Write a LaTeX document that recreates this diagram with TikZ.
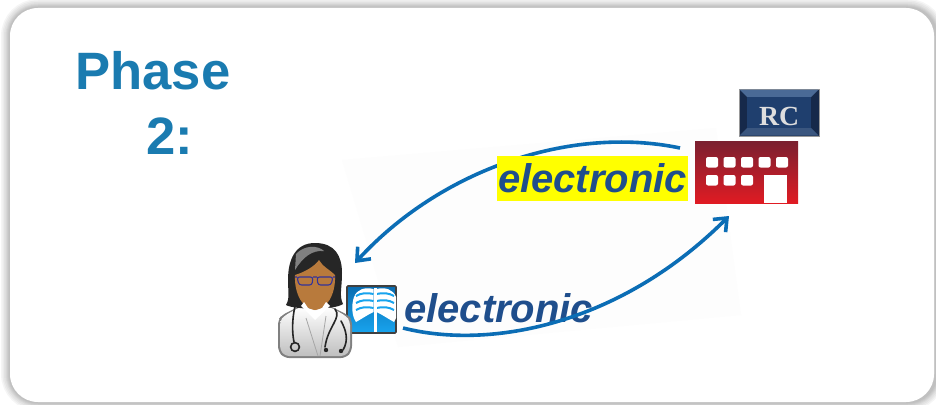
\documentclass[tikz,border=0pt]{standalone}
\usepackage{fontspec}
\setmainfont{Liberation Sans}
\newfontfamily\rcfont{Liberation Serif}
\usetikzlibrary{arrows.meta}
\definecolor{arrowblue}{HTML}{0B6DB5}
\definecolor{titleblue}{HTML}{1A7BB0}
\definecolor{wordblue}{HTML}{1F4E8C}
\definecolor{skin}{HTML}{B87A3C}
\definecolor{screenblue}{HTML}{18A4EE}
\definecolor{screendark}{HTML}{0A6CB0}
\definecolor{marker}{HTML}{FFFF00}
\definecolor{brickdark}{HTML}{7A2030}
\definecolor{brickred}{HTML}{E01B23}
\definecolor{navy}{HTML}{1F3F6E}
\definecolor{navydark}{HTML}{16294A}
\definecolor{navylight}{HTML}{4A6A96}
\tikzset{
  link/.style={draw=arrowblue,line width=3.6pt,-{Straight Barb[length=11pt,width=18pt,line width=3.6pt]}},
  word/.style={font=\bfseries\itshape\fontsize{40}{40}\selectfont,text=wordblue,inner sep=0pt},
  pane/.style={fill=white,rounded corners=2pt},
  stripe/.style={draw=screenblue,line width=2pt},
  tube/.style={draw=black!85,line width=1.6pt,line cap=round}
}
\begin{document}
\begin{tikzpicture}[x=1pt,y=-1pt]
  \useasboundingbox (0,0) rectangle (936,404);
  % card with soft edge
  \begin{scope}
    \clip (0,0) rectangle (936,404);
    \foreach \w in {18,15,12,9,7,5,3}{
      \draw[line width=\w pt,black,draw opacity=.04,rounded corners=28pt] (10,8) rectangle (936,402);
    }
    \fill[white,rounded corners=28pt] (10,8) rectangle (934,402);
  \end{scope}
  % faint sheet behind the arrows
  \fill[black!.7] (342,160) -- (716,128) -- (741,315) -- (398,347) -- cycle;

  \node[font=\bfseries\fontsize{52.6}{65}\selectfont,text=titleblue,align=center,inner sep=0pt] (title) at (153,102.5) {Phase\\\hspace*{34pt}2:};

  % x-ray
  \node[draw=black!75,line width=1.6pt,top color=screendark,bottom color=screenblue,minimum width=49pt,minimum height=47pt,inner sep=0pt,rounded corners=1pt] (xray) at (371.5,309.5) {};
  \begin{scope}
    \clip (348,287) rectangle (396,332);
    \foreach \s in {-1,1}{
      \begin{scope}[shift={(375,0)},xscale=\s]
        \fill[white] (1.5,289) .. controls (10,287) and (18,289) .. (21,297) .. controls (24,306) and (23,316) .. (19,322) .. controls (12,318) and (6,314) .. (1.5,312) -- cycle;
        \foreach \y in {294,301,308}{
          \draw[stripe] (1.5,\y) .. controls (8,\y-1.5) and (14,\y-1) .. (19,\y+2);
        }
      \end{scope}
    }
    \fill[white] (373.5,288) rectangle (376.5,332);
  \end{scope}

  % doctor
  \coordinate (doctor) at (355,263);
  \fill[black!50,rounded corners=5pt] (278,320) -- (282,315) -- (300,306) -- (330,306) -- (348,315) -- (352,320) -- (352,351) -- (346,358) -- (284,358) -- (278,351) -- cycle;
  \shade[top color=white,bottom color=black!25,rounded corners=4pt] (280,321) -- (284,316) -- (300,307) -- (330,307) -- (346,316) -- (350,321) -- (350,350) -- (345,356) -- (285,356) -- (280,350) -- cycle;
  \fill[black!85] (315,243) .. controls (295,243) and (288,260) .. (288,280) .. controls (288,292) and (290,298) .. (286,305) .. controls (295,310) and (335,310) .. (343,304) .. controls (339,296) and (342,288) .. (342,273) .. controls (342,256) and (335,243) .. (315,243) -- cycle;
  \fill[black!50] (296,254) .. controls (304,245) and (318,245) .. (324,251) .. controls (312,250) and (303,257) .. (295,270) -- cycle;
  \fill[skin] (295,275) .. controls (305,272) and (315,266) .. (319,260) .. controls (322,266) and (330,270) .. (335,275) .. controls (336,295) and (326,310) .. (315,310) .. controls (304,310) and (294,295) .. (295,275) -- cycle;
  \fill[white] (301,306) -- (315,320) -- (330,306) -- (326,302) -- (322,308) -- (315,311) -- (308,308) -- (304,302) -- cycle;
  \draw[black!35,line width=.8pt] (306,318) -- (318,356) (326,316) -- (320,356);
  \draw[draw=black!50!blue!80,line width=1.1pt,rounded corners=2.5pt] (295,277) -- (297,277) (313,277) -- (317,277) (335,277) -- (333,277)
    (297,277) -- (313,277) -- (312,285) -- (299,285) -- cycle (317,277) -- (333,277) -- (331,285) -- (318,285) -- cycle;
  \draw[tube] (295,306) .. controls (292,320) and (292,332) .. (294,342);
  \draw[tube] (295,347) circle (4.4pt);
  \draw[tube] (335,309) .. controls (342,318) and (328,326) .. (325,347);
  \draw[tube] (341,321) .. controls (346,330) and (349,340) .. (343,350);
  \fill[black!85] (326,350) circle (2.2pt) (341,351) circle (2.2pt);

  % receiving centre
  \node[minimum width=80pt,minimum height=47pt,inner sep=0pt,fill=navydark,draw=black!40,line width=.6pt] (rcbox) at (779,112.5) {};
  \fill[navylight] (739.5,89.5) -- (818.5,89.5) -- (811,97) -- (747,97) -- cycle;
  \fill[navylight!70!navydark] (739.5,135.5) -- (818.5,135.5) -- (811,128) -- (747,128) -- cycle;
  \fill[navy] (747,97) rectangle (811,128);
  \node[font=\rcfont\bfseries\fontsize{27.7}{28}\selectfont,text=black!13,inner sep=0pt] (rc) at (779,116) {RC};
  \node[minimum width=103pt,minimum height=62pt,inner sep=0pt,top color=brickdark,bottom color=brickred] (centre) at (746.5,172) {};
  \foreach \x in {706,723.5,741,758.5,776}{
    \fill[pane] (\x,157) rectangle +(12,10.5);
  }
  \foreach \x in {706,723.5,741}{
    \fill[pane] (\x,175) rectangle +(12,10.5);
  }
  \fill[white] (764,175) rectangle (787,203);

  % arrows and words
  \coordinate (topstart) at (680,148);
  \coordinate (lowstart) at (403,328);
  \coordinate (lowend) at (729,216);
  \draw[link] (topstart) .. controls (570,125) and (440,170) .. (doctor);
  \node[word,fill=marker,minimum width=191pt,minimum height=45pt] (wordtop) at (592.5,178.5) {electronic};
  \node[word,anchor=west] (wordlow) at (404,308) {electronic};
  \draw[link] (lowstart) .. controls (490,350) and (620,325) .. (lowend);
\end{tikzpicture}
\end{document}
